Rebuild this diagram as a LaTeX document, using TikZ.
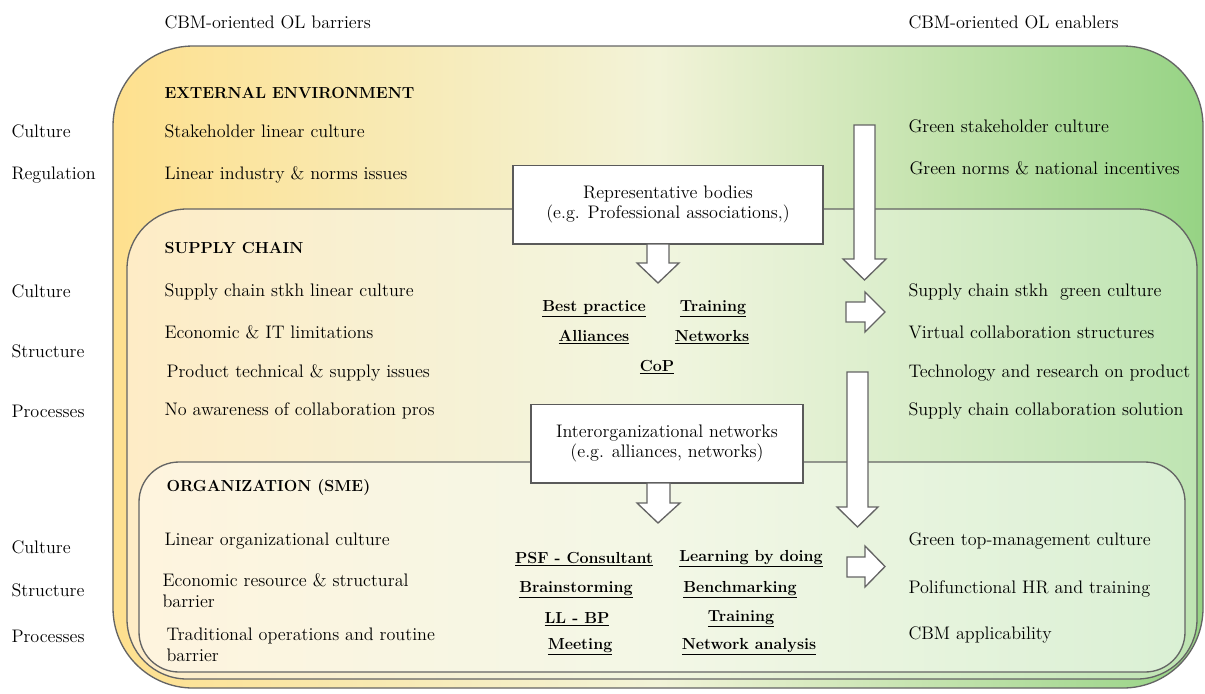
\documentclass[tikz,border=0pt]{standalone}
\usepackage{tikz}
\usetikzlibrary{positioning}

\tikzset{every picture/.style={line width=0.75pt}}
\tikzset{
  txt/.style={anchor=west, inner sep=0.75pt, align=left, font=\fontsize{13.6}{15.75}\selectfont},
  headtxt/.style={txt, font=\fontsize{12}{14}\selectfont\bfseries},
  practice/.style={inner sep=0.75pt, font=\fontsize{12}{14}\selectfont\bfseries},
  bodybox/.style={draw={rgb,255:red,90;green,90;blue,90}, fill=white, line width=1pt, align=center, inner sep=0pt, font=\fontsize{13.6}{15}\selectfont},
  blockarrow/.style={draw={rgb,255:red,100;green,100;blue,100}, fill=white, line width=1pt, line join=miter},
  layer/.style={draw={rgb,255:red,100;green,100;blue,100}, line width=1pt}
}
\newcommand{\ul}[1]{\underline{#1}}

\begin{document}
\begin{tikzpicture}[x=0.75pt,y=0.75pt,yscale=-1,xscale=1]
\useasboundingbox (0,0) rectangle (1205,693);

%Shape: Layer external environment
\draw [layer, rounded corners=60pt, left color={rgb,255:red,254;green,224;blue,142}, right color={rgb,255:red,150;green,211;blue,132}, middle color={rgb,255:red,242;green,243;blue,216}] (113,46) rectangle (1203,688);
%Shape: Layer supply chain
\draw [layer, rounded corners=45pt, left color={rgb,255:red,254;green,236;blue,198}, right color={rgb,255:red,190;green,228;blue,178}, middle color={rgb,255:red,241;green,245;blue,223}] (127,209) rectangle (1197,679);
%Shape: Layer organization
\draw [layer, rounded corners=30pt, left color={rgb,255:red,254;green,244;blue,222}, right color={rgb,255:red,218;green,240;blue,212}, middle color={rgb,255:red,243;green,247;blue,230}] (139,462) rectangle (1185,672);

% Column titles
\node [txt] (barriers) at (163,22) {CBM-oriented OL barriers};
\node [txt] (enablers) at (907,22) {CBM-oriented OL enablers};

% Row labels
\node [txt] (lcult1) at (10,131) {Culture};
\node [txt] (lreg) at (10,175) {Regulation};
\node [txt] (lcult2) at (10,291) {Culture};
\node [txt] (lstruc2) at (10,351) {Structure};
\node [txt] (lproc2) at (10,411) {Processes};
\node [txt] (lcult3) at (10,547) {Culture};
\node [txt] (lstruc3) at (10,590) {Structure};
\node [txt] (lproc3) at (10,636) {Processes};

% External environment
\node [headtxt] (exthead) at (163,93) {EXTERNAL ENVIRONMENT};
\node [txt] (extb1) at (163,131) {Stakeholder linear culture};
\node [txt] (extb2) at (163,175) {Linear industry \& norms issues};
\node [txt] (exte1) at (907,126) {Green stakeholder culture};
\node [txt] (exte2) at (908,168) {Green norms \& national incentives};

% Supply chain
\node [headtxt] (schead) at (163,248) {SUPPLY CHAIN};
\node [txt] (scb1) at (163,292) {Supply chain stkh linear culture};
\node [txt] (scb2) at (163,332) {Economic \& IT limitations};
\node [txt] (scb3) at (165,373) {Product technical \& supply issues};
\node [txt] (scb4) at (163,411) {No awareness of collaboration pros};
\node [txt] (sce1) at (907,292) {Supply chain stkh\ \ green culture};
\node [txt] (sce2) at (907,332) {Virtual collaboration structures};
\node [txt] (sce3) at (907,373) {Technology and research on product};
\node [txt] (sce4) at (907,411) {Supply chain collaboration solution};

% Organization
\node [headtxt] (orghead) at (165,487) {ORGANIZATION (SME)};
\node [txt] (orgb1) at (163,541) {Linear organizational culture};
\node [txt] (orgb2) at (161,591) {Economic resource \& structural\\barrier};
\node [txt] (orgb3) at (165,645) {Traditional operations and routine\\barrier};
\node [txt] (orge1) at (907,541) {Green top-management culture};
\node [txt] (orge2) at (907,589) {Polifunctional HR and training};
\node [txt] (orge3) at (907,635) {CBM applicability};

%Shape: long arrow external -> supply chain
\draw [blockarrow] (854,125) -- (854,259) -- (843,259) -- (864.5,280) -- (886,259) -- (875,259) -- (875,125) -- cycle;
%Shape: long arrow supply chain -> organization
\draw [blockarrow] (847,372) -- (847,507) -- (837,507) -- (857.5,527) -- (878,507) -- (868,507) -- (868,372) -- cycle;
%Shape: right arrow supply chain
\draw [blockarrow] (846,302) -- (865,302) -- (865,292) -- (885,312) -- (865,332) -- (865,322) -- (846,322) -- cycle;
%Shape: right arrow organization
\draw [blockarrow] (847,557) -- (865,557) -- (865,546) -- (885,566.5) -- (865,587) -- (865,577) -- (847,577) -- cycle;

% Representative bodies
\node [bodybox, minimum width=232.5pt, minimum height=59pt] (repbodies) at (668,204.5) {Representative bodies\\(e.g. Professional associations,)};
\draw [blockarrow] (647,244) -- (647,263) -- (637,263) -- (658,283) -- (679,263) -- (669,263) -- (669,244) -- cycle;
\node [practice] (bestpr) at (594,309) {\ul{Best practice}};
\node [practice] (sctrain) at (713,309) {\ul{Training}};
\node [practice] (alli) at (594,337) {\ul{Alliances}};
\node [practice] (netw) at (712,337) {\ul{Networks}};
\node [practice] (cop) at (657,367) {\ul{CoP}};

% Interorganizational networks
\node [bodybox, minimum width=204pt, minimum height=59pt] (interorg) at (667,443.5) {Interorganizational networks\\(e.g. alliances, networks)};
\draw [blockarrow] (647,483) -- (647,503) -- (637,503) -- (658,523) -- (680,503) -- (670,503) -- (670,483) -- cycle;
\node [practice] (psf) at (584,559) {\ul{PSF - Consultant}};
\node [practice] (lbd) at (751,559) {\ul{Learning by doing}};
\node [practice] (brain) at (576,590) {\ul{Brainstorming}};
\node [practice] (bench) at (740,590) {\ul{Benchmarking}};
\node [practice] (llbp) at (577,619) {\ul{LL - BP}};
\node [practice] (orgtrain) at (741,619) {\ul{Training}};
\node [practice] (meet) at (580,647) {\ul{Meeting}};
\node [practice] (netan) at (749,647) {\ul{Network analysis}};

\end{tikzpicture}
\end{document}
